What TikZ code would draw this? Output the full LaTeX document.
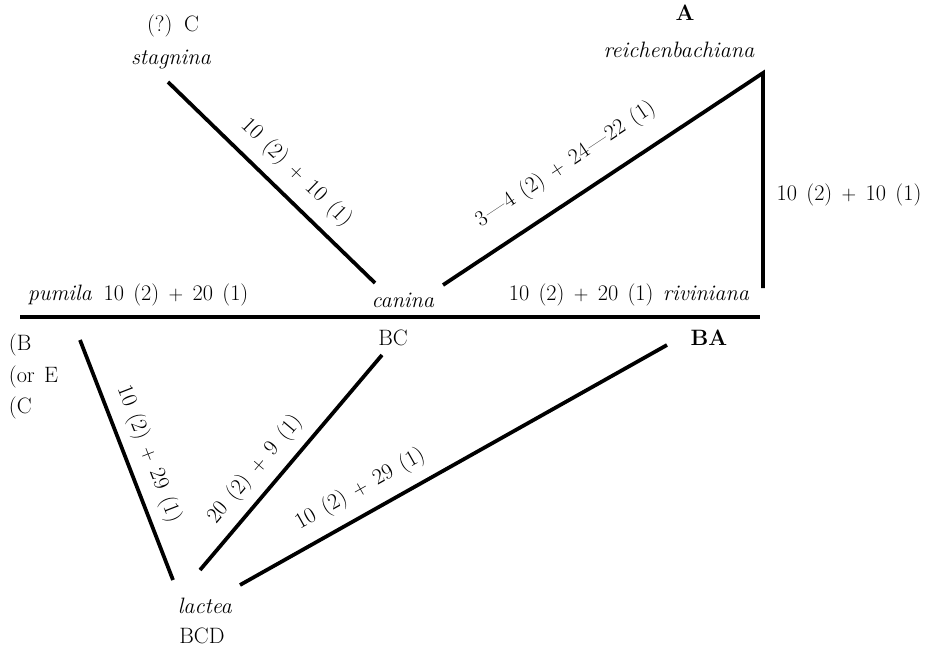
\documentclass[tikz,border=0pt]{standalone}
\usepackage{tikz}
\newcommand{\lblfont}{\fontsize{19}{22}\selectfont\spaceskip=0.42em\relax}
\newcommand{\rdash}{\kern1pt---\kern1pt}

\begin{document}
\begin{tikzpicture}[x=0.03cm,y=-0.03cm,line width=3.2pt,line join=miter,
  every node/.style={font=\lblfont,anchor=base,inner sep=0pt}]
  \useasboundingbox (0,0) rectangle (930,647);
  \coordinate (hl) at (20,317);
  \coordinate (hr) at (760,317);
  \coordinate (st) at (168,82);
  \coordinate (ca) at (375,283);
  \coordinate (cb) at (443,285);
  \coordinate (rt) at (763,73);
  \coordinate (rb) at (763,288);
  \coordinate (pu) at (80,340);
  \coordinate (la) at (173,580);
  \coordinate (bc) at (382,355);
  \coordinate (lb) at (200,570);
  \coordinate (ba) at (667,345);
  \coordinate (lc) at (240,585);
  \node (qc) at (173,32) {(?) C};
  \node (stag) at (171,65) {\textit{stagnina}};
  \node (a) at (685,21) {\textbf{A}};
  \node (reich) at (679,58) {\textit{reichenbachiana}};
  \node (rv) at (849,200) {10 (2) $+$ 10 (1)};
  \node (pum) at (60,300) {\textit{pumila}};
  \node (pumn) at (176,300) {10 (2) $+$ 20 (1)};
  \node (can) at (403,307) {\textit{canina}};
  \node (riv) at (629,300) {10 (2) $+$ 20 (1) \textit{riviniana}};
  \node (bcl) at (393,345) {BC};
  \node (bal) at (709,345) {\textbf{BA}};
  \node[anchor=base west] (ob) at (7,350) {(B};
  \node[anchor=base west] (oe) at (7,382) {(or E};
  \node[anchor=base west] (oc) at (7,413) {(C};
  \node (lac) at (205,613) {\textit{lactea}};
  \node (bcd) at (202,643) {BCD};
  \draw (hl) -- (hr);
  \draw (st) -- (ca) node[pos=0.54,sloped,above=9.7pt] (l1) {10 (2) $+$ 10 (1)};
  \draw (cb) -- (rt) -- (rb);
  \path (cb) -- (rt) node[pos=0.44,sloped,above=17pt] (l2) {3\rdash4 (2) $+$ 24\rdash22 (1)};
  \draw (pu) -- (la) node[pos=0.51,sloped,above=8.4pt] (l3) {10 (2) $+$ 29 (1)};
  \draw (lb) -- (bc) node[pos=0.40,sloped,above=8.5pt] (l4) {20 (2) $+$ 9 (1)};
  \draw (lc) -- (ba) node[pos=0.31,sloped,above=10pt] (l5) {10 (2) $+$ 29 (1)};
\end{tikzpicture}
\end{document}
